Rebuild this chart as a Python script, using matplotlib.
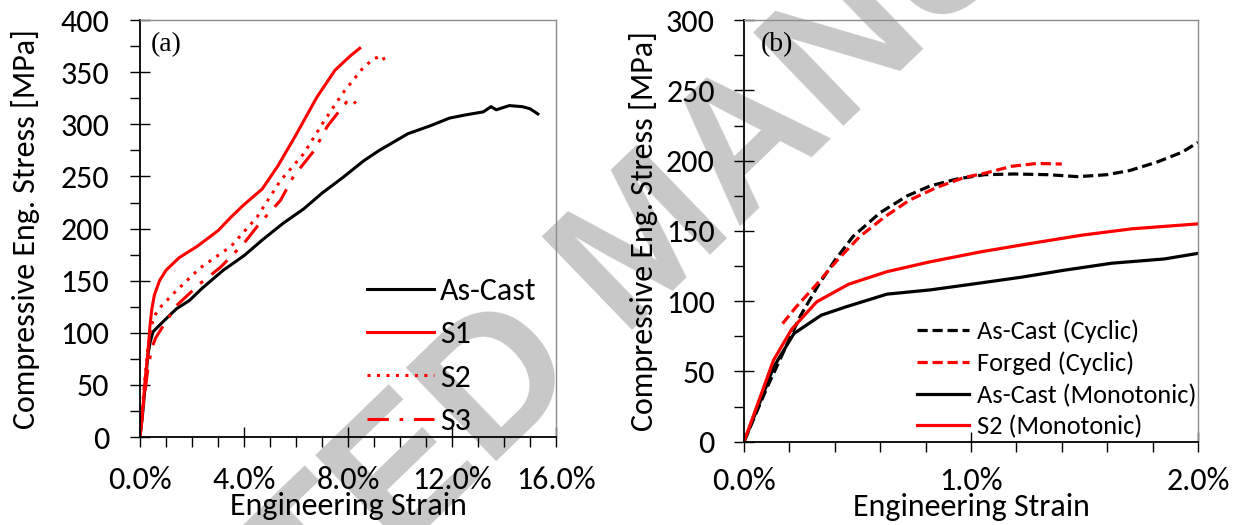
import matplotlib
matplotlib.use('Agg')
import matplotlib.pyplot as plt
from matplotlib import font_manager
from matplotlib.ticker import MultipleLocator, PercentFormatter

# pick a Calibri-like face if one is around
installed = {f.name for f in font_manager.fontManager.ttflist}
sans = next(n for n in ['Carlito', 'Liberation Sans Narrow', 'Open Sans', 'DejaVu Sans']
            if n in installed)
plt.rcParams['font.family'] = sans

# (a) monotonic compression, strain in %
ascast_strain = [0, 0.1, 0.2, 0.3, 0.38, 0.5, 0.7, 0.9, 1.4, 1.9, 2.4, 3.2, 4.0, 4.7, 5.5,
                 6.3, 7.0, 7.8, 8.6, 9.2, 10.3, 11.2, 11.9, 12.5, 13.2, 13.5, 13.7, 14.2,
                 14.7, 15.0, 15.3]
ascast_stress = [0, 22, 50, 78, 90, 101, 106, 111, 123, 131, 143, 160, 174, 189, 205,
                 219, 234, 249, 265, 275, 291, 299, 306, 309, 312, 317, 314, 318,
                 317, 315, 310]

s1_strain = [0, 0.1, 0.2, 0.3, 0.38, 0.45, 0.55, 0.75, 1.0, 1.5, 2.2, 3.0, 3.5, 4.0, 4.7,
             5.3, 6.0, 6.8, 7.5, 8.1, 8.45]
s1_stress = [0, 25, 55, 80, 106, 122, 136, 150, 160, 172, 183, 198, 211, 223, 238,
             260, 290, 326, 352, 366, 373]

s2_strain = [0, 0.15, 0.3, 0.45, 0.6, 0.8, 1.3, 2.3, 3.5, 4.5, 5.4, 6.3, 7.05, 7.8, 8.6,
             9.0, 9.3, 9.5]
s2_stress = [0, 45, 85, 108, 118, 125, 138, 162, 183, 211, 246, 272, 302, 330, 355,
             363, 366, 358]

s3_strain = [0, 0.15, 0.3, 0.45, 0.6, 0.85, 1.4, 2.3, 3.1, 4.0, 4.6, 5.4, 5.9, 6.7, 7.2,
             7.7, 7.9, 8.06, 8.3]
s3_stress = [0, 35, 65, 85, 95, 105, 126, 147, 163, 186, 205, 227, 250, 275, 298,
             314, 320, 326, 320]

# (b) cyclic vs monotonic, first 2 % of strain
ac_cyc_strain = [0, 0.1, 0.2, 0.25, 0.33, 0.4, 0.48, 0.6, 0.72, 0.82, 0.94, 1.06, 1.19,
                 1.34, 1.47, 1.6, 1.7, 1.82, 1.93, 2.0]
ac_cyc_stress = [0, 38, 73, 90, 112, 129, 146, 163, 175, 182, 187, 190, 190.5,
                 190, 188.6, 190, 193, 199, 206, 213]

fg_cyc_strain = [0.17, 0.23, 0.32, 0.41, 0.51, 0.62, 0.73, 0.85, 0.97, 1.06, 1.18, 1.29, 1.4]
fg_cyc_stress = [84, 96, 112, 129, 146, 160, 172, 181, 188, 191, 196, 198, 197.6]

ac_mono_strain = [0, 0.09, 0.13, 0.22, 0.34, 0.45, 0.63, 0.82, 1.0, 1.22, 1.41, 1.62, 1.85, 2.0]
ac_mono_stress = [0, 36, 53, 77, 90, 96, 105, 108, 112, 117, 122, 127, 130, 134]

s2_mono_strain = [0, 0.13, 0.21, 0.32, 0.46, 0.63, 0.82, 1.04, 1.26, 1.49, 1.71, 2.0]
s2_mono_stress = [0, 58, 80, 99.5, 112, 121, 128, 135, 141, 147, 151.5, 155]

fig = plt.figure(figsize=(12.39, 5.25), dpi=100)
ax1 = fig.add_axes([0.113, 0.1676, 0.3358, 0.794])
ax2 = fig.add_axes([0.6005, 0.1587, 0.3664, 0.803])

fig.text(0.525, 0.533, 'ACCEPTED MANUSCRIPT', rotation=44, rotation_mode='anchor',
         ha='center', va='center', fontsize=136, fontweight='bold',
         family='Liberation Sans', color='#c8c8c8', zorder=-1)

lw = 2.2
ax1.plot(ascast_strain, ascast_stress, color='black', lw=lw, label='As-Cast')
ax1.plot(s1_strain, s1_stress, color='red', lw=lw, label='S1')
ax1.plot(s2_strain, s2_stress, color='red', lw=lw, dashes=(1, 2.1), label='S2')
ax1.plot(s3_strain, s3_stress, color='red', lw=lw, dashes=(7, 3.5, 1.2, 3.5), label='S3')

lw_b = 2.3
ax2.plot(ac_cyc_strain, ac_cyc_stress, color='black', lw=lw_b, dashes=(3.2, 1.5),
         label='As-Cast (Cyclic)')
ax2.plot(fg_cyc_strain, fg_cyc_stress, color='red', lw=lw_b, dashes=(3.2, 1.5),
         label='Forged (Cyclic)')
ax2.plot(ac_mono_strain, ac_mono_stress, color='black', lw=lw_b, label='As-Cast (Monotonic)')
ax2.plot(s2_mono_strain, s2_mono_stress, color='red', lw=lw_b, label='S2 (Monotonic)')

for ax, xmax, xmaj, xmin, ymax, xpad, ypad in [(ax1, 16, 4, 1, 400, 14, 15),
                                               (ax2, 2, 1, 0.2, 300, 11, 14)]:
    ax.set_facecolor('none')
    ax.set_xlim(0, xmax)
    ax.set_ylim(0, ymax)
    ax.xaxis.set_major_locator(MultipleLocator(xmaj))
    ax.xaxis.set_minor_locator(MultipleLocator(xmin))
    ax.yaxis.set_major_locator(MultipleLocator(50))
    ax.yaxis.set_minor_locator(MultipleLocator(25))
    ax.xaxis.set_major_formatter(PercentFormatter(100, decimals=1))
    ax.tick_params(which='major', direction='inout', length=14, width=1,
                   labelsize=23, top=False, right=False)
    ax.tick_params(which='minor', direction='out', length=7, width=1,
                   top=False, right=False)
    ax.tick_params(axis='x', which='major', pad=xpad)
    ax.tick_params(axis='y', which='major', pad=ypad)
    for side in ['left', 'bottom']:
        ax.spines[side].set_linewidth(1.3)
        ax.spines[side].set_color('black')
    for side in ['top', 'right']:
        ax.spines[side].set_linewidth(1.0)
        ax.spines[side].set_color('#8c8c8c')
    ax.set_xlabel('Engineering Strain', fontsize=23)
    ax.set_ylabel('Compressive Eng. Stress [MPa]', fontsize=23)

ax1.xaxis.set_label_coords(0.5, -0.132)
ax1.yaxis.set_label_coords(-0.240, 0.5)
ax2.xaxis.set_label_coords(0.5, -0.122)
ax2.yaxis.set_label_coords(-0.189, 0.5)

ax1.text(0.026, 0.942, '(a)', transform=ax1.transAxes, family='Liberation Serif',
         fontsize=20, ha='left', va='center')
ax2.text(0.037, 0.941, '(b)', transform=ax2.transAxes, family='Liberation Serif',
         fontsize=20, ha='left', va='center')

ax1.legend(loc='upper left', bbox_to_anchor=(0.546, 0.384), frameon=False, fontsize=23,
           handlelength=2.1, handletextpad=0.19, labelspacing=0.48,
           borderpad=0, borderaxespad=0)
ax2.legend(loc='upper left', bbox_to_anchor=(0.380, 0.290), frameon=False, fontsize=19,
           handlelength=2.0, handletextpad=0.3, labelspacing=0.32,
           borderpad=0, borderaxespad=0)

fig.savefig('out.png', dpi=100)
